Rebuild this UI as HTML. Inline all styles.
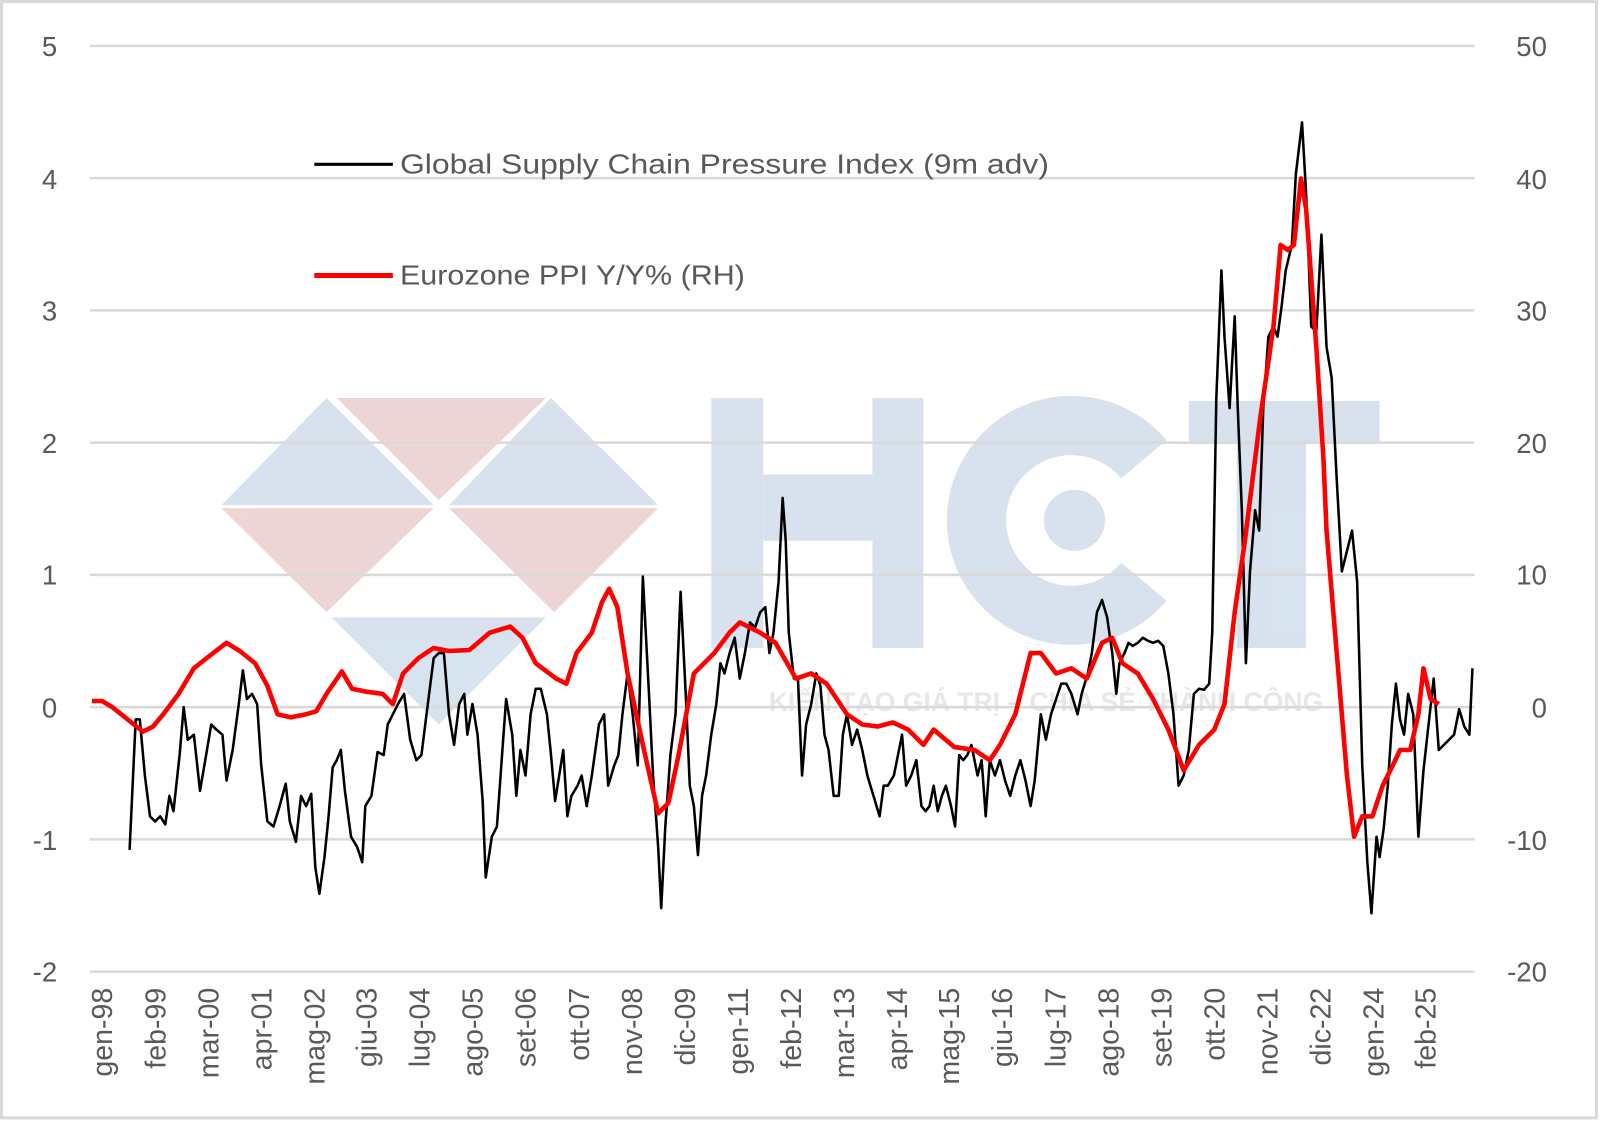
<!DOCTYPE html>
<html><head><meta charset="utf-8"><style>
html,body{margin:0;padding:0;background:#fff;}
svg{display:block;}
text{font-family:"Liberation Sans",sans-serif;fill:#595959;}
</style></head><body>
<svg width="1600" height="1121" viewBox="0 0 1568 1098.6" preserveAspectRatio="none">
<rect x="1.5" y="1.5" width="1563" height="1094" fill="#fff" stroke="#d9d9d9" stroke-width="3"/>
<!-- watermark -->
<g opacity="0.95">
<polygon points="217,495 320,390 425,495" fill="#d5e1ee"/>
<polygon points="330,390 535,390 430,490" fill="#eed3d3"/>
<polygon points="440,495 540,390 645,495" fill="#d5e1ee"/>
<polygon points="217,498 425,498 320,600" fill="#eed3d3"/>
<polygon points="440,498 645,498 543,600" fill="#eed3d3"/>
<polygon points="325,605 535,605 430,710" fill="#d5e1ee"/>
<rect x="697" y="390" width="51" height="245" fill="#d5e1ee"/>
<rect x="855" y="390" width="50" height="245" fill="#d5e1ee"/>
<rect x="748" y="465" width="107" height="65" fill="#d5e1ee"/>
<path d="M1121,450 A93,93 0 1 0 1121,570" fill="none" stroke="#d5e1ee" stroke-width="58"/>
<circle cx="1053" cy="510" r="30" fill="#d5e1ee"/>
<rect x="1165" y="393" width="187" height="42" fill="#d5e1ee"/>
<rect x="1212" y="435" width="68" height="200" fill="#d5e1ee"/>
<text x="1025" y="697" text-anchor="middle" style="font-size:26px;fill:#e6e6e6;font-weight:bold">KIẾN TẠO GIÁ TRỊ – CHIA SẺ THÀNH CÔNG</text>
</g>
<!-- grid -->
<g stroke="#d9d9d9" stroke-width="2.5">
<line x1="88" x2="1445" y1="45" y2="45"/>
<line x1="88" x2="1445" y1="174.6" y2="174.6"/>
<line x1="88" x2="1445" y1="304.2" y2="304.2"/>
<line x1="88" x2="1445" y1="433.8" y2="433.8"/>
<line x1="88" x2="1445" y1="563.4" y2="563.4"/>
<line x1="88" x2="1445" y1="693" y2="693"/>
<line x1="88" x2="1445" y1="822.6" y2="822.6"/>
<line x1="88" x2="1445" y1="952.2" y2="952.2"/>
</g>
<g style="font-size:27px" text-anchor="end">
<text x="56" y="55">5</text><text x="56" y="185">4</text><text x="56" y="314">3</text><text x="56" y="444">2</text><text x="56" y="573">1</text><text x="56" y="703">0</text><text x="56" y="833">-1</text><text x="56" y="962">-2</text>
</g>
<g style="font-size:27px" text-anchor="end">
<text x="1516" y="55">50</text><text x="1516" y="185">40</text><text x="1516" y="314">30</text><text x="1516" y="444">20</text><text x="1516" y="573">10</text><text x="1516" y="703">0</text><text x="1516" y="833">-10</text><text x="1516" y="962">-20</text>
</g>
<g style="font-size:28px" text-anchor="end">
<text transform="translate(110,968) rotate(-90)">gen-98</text>
<text transform="translate(162,968) rotate(-90)">feb-99</text>
<text transform="translate(214,968) rotate(-90)">mar-00</text>
<text transform="translate(266,968) rotate(-90)">apr-01</text>
<text transform="translate(318,968) rotate(-90)">mag-02</text>
<text transform="translate(369,968) rotate(-90)">giu-03</text>
<text transform="translate(421,968) rotate(-90)">lug-04</text>
<text transform="translate(473,968) rotate(-90)">ago-05</text>
<text transform="translate(525,968) rotate(-90)">set-06</text>
<text transform="translate(577,968) rotate(-90)">ott-07</text>
<text transform="translate(629,968) rotate(-90)">nov-08</text>
<text transform="translate(681,968) rotate(-90)">dic-09</text>
<text transform="translate(733,968) rotate(-90)">gen-11</text>
<text transform="translate(785,968) rotate(-90)">feb-12</text>
<text transform="translate(837,968) rotate(-90)">mar-13</text>
<text transform="translate(889,968) rotate(-90)">apr-14</text>
<text transform="translate(940,968) rotate(-90)">mag-15</text>
<text transform="translate(992,968) rotate(-90)">giu-16</text>
<text transform="translate(1044,968) rotate(-90)">lug-17</text>
<text transform="translate(1096,968) rotate(-90)">ago-18</text>
<text transform="translate(1148,968) rotate(-90)">set-19</text>
<text transform="translate(1200,968) rotate(-90)">ott-20</text>
<text transform="translate(1252,968) rotate(-90)">nov-21</text>
<text transform="translate(1304,968) rotate(-90)">dic-22</text>
<text transform="translate(1356,968) rotate(-90)">gen-24</text>
<text transform="translate(1407,968) rotate(-90)">feb-25</text>
</g>
<!-- legend -->
<line x1="308" x2="385" y1="161" y2="161" stroke="#000" stroke-width="3"/>
<text x="392" y="170" style="font-size:27px" textLength="636" lengthAdjust="spacingAndGlyphs">Global Supply Chain Pressure Index (9m adv)</text>
<line x1="308" x2="385" y1="270" y2="270" stroke="#ff0000" stroke-width="5"/>
<text x="392" y="279" style="font-size:27px" textLength="338" lengthAdjust="spacingAndGlyphs">Eurozone PPI Y/Y% (RH)</text>
<!-- black series -->
<polyline fill="none" stroke="#000" stroke-width="2.5" stroke-linejoin="round" points="127,833 133,705 137,705 142,760 147,800 152,805 157,800 162,808 166,780 170,795 176,740 180,693 184,725 190,720 196,775 202,740 207,710 212,715 218,720 222,765 228,735 234,690 238,657 242,685 247,680 252,690 256,750 262,805 268,810 274,790 280,768 284,805 290,825 295,780 300,790 305,778 309,850 313,876 318,840 322,800 326,752 330,745 334,735 338,775 344,820 350,830 355,845 358,790 364,780 370,737 376,740 380,710 385,700 390,690 396,680 402,725 408,745 413,740 418,700 425,645 430,640 435,640 440,700 445,730 450,690 455,680 458,720 463,690 468,720 473,785 476,860 482,820 487,810 492,740 496,685 502,720 506,780 510,735 515,760 520,700 525,675 530,675 536,700 540,740 544,785 548,760 552,735 556,800 560,780 566,770 570,760 575,790 580,760 587,710 592,700 596,770 602,750 606,740 610,700 615,660 620,700 625,750 630,565 636,680 640,760 645,830 648,890 652,810 657,740 662,700 667,580 672,680 676,770 680,790 684,838 688,780 692,760 697,720 702,690 706,650 710,660 715,640 720,625 725,665 730,640 735,610 740,615 745,600 750,595 754,640 758,620 763,570 767,488 770,530 773,620 778,665 782,665 786,760 790,710 795,690 800,660 804,672 808,720 812,735 817,780 822,780 826,720 830,700 835,730 840,715 845,735 850,760 856,780 862,800 866,770 870,770 876,760 880,740 884,720 888,770 893,760 898,745 903,790 907,795 911,790 915,770 919,795 923,780 927,770 932,790 936,810 940,740 944,745 948,740 952,730 958,760 962,745 966,800 970,745 975,760 980,745 985,765 990,780 995,760 1000,745 1005,765 1010,790 1014,765 1020,700 1025,725 1030,700 1035,685 1040,670 1045,670 1050,680 1056,700 1060,680 1066,660 1070,640 1075,600 1080,588 1085,605 1090,640 1094,680 1097,650 1102,640 1106,630 1110,633 1115,630 1120,625 1125,628 1130,630 1135,628 1140,633 1145,660 1150,700 1155,770 1160,760 1165,735 1170,680 1175,675 1180,676 1185,670 1188,620 1192,390 1197,265 1200,330 1205,400 1210,310 1213,400 1217,500 1221,650 1225,560 1230,500 1234,520 1238,400 1243,330 1248,320 1252,330 1256,300 1260,265 1266,240 1270,170 1276,120 1280,190 1285,320 1290,325 1295,230 1300,340 1305,370 1310,470 1315,560 1320,540 1325,520 1330,570 1335,750 1340,845 1344,895 1349,820 1352,840 1356,812 1360,770 1364,710 1368,670 1372,705 1376,720 1380,680 1385,700 1390,820 1395,755 1400,710 1405,665 1410,735 1415,730 1420,725 1425,720 1430,695 1435,712 1440,720 1443,655"/>
<!-- red series -->
<polyline fill="none" stroke="#ff0000" stroke-width="4.5" stroke-linejoin="round" points="90,687 100,687 110,693 125,705 140,717 150,712 160,700 175,680 190,655 205,643 222,630 235,638 250,650 262,672 272,700 285,703 300,700 310,697 320,680 335,658 345,675 360,678 375,680 385,690 395,660 410,645 425,635 440,638 460,637 480,620 500,614 512,625 525,650 545,665 555,670 565,640 580,620 590,590 597,577 605,595 615,660 630,730 645,797 655,787 665,740 680,660 700,640 715,620 725,610 745,620 760,630 780,665 795,660 810,670 830,700 845,710 860,712 875,708 890,715 905,730 915,715 935,732 955,735 970,745 980,730 995,700 1010,640 1020,640 1035,660 1050,655 1065,665 1080,630 1090,625 1100,650 1115,660 1130,685 1145,715 1160,755 1175,730 1190,715 1200,690 1210,600 1220,530 1235,410 1248,320 1255,240 1262,245 1268,240 1275,175 1280,205 1290,340 1297,450 1300,520 1310,640 1320,760 1327,820 1335,800 1345,800 1355,770 1365,750 1372,735 1382,735 1390,700 1395,655 1402,685 1410,690"/>
</svg>
</body></html>
